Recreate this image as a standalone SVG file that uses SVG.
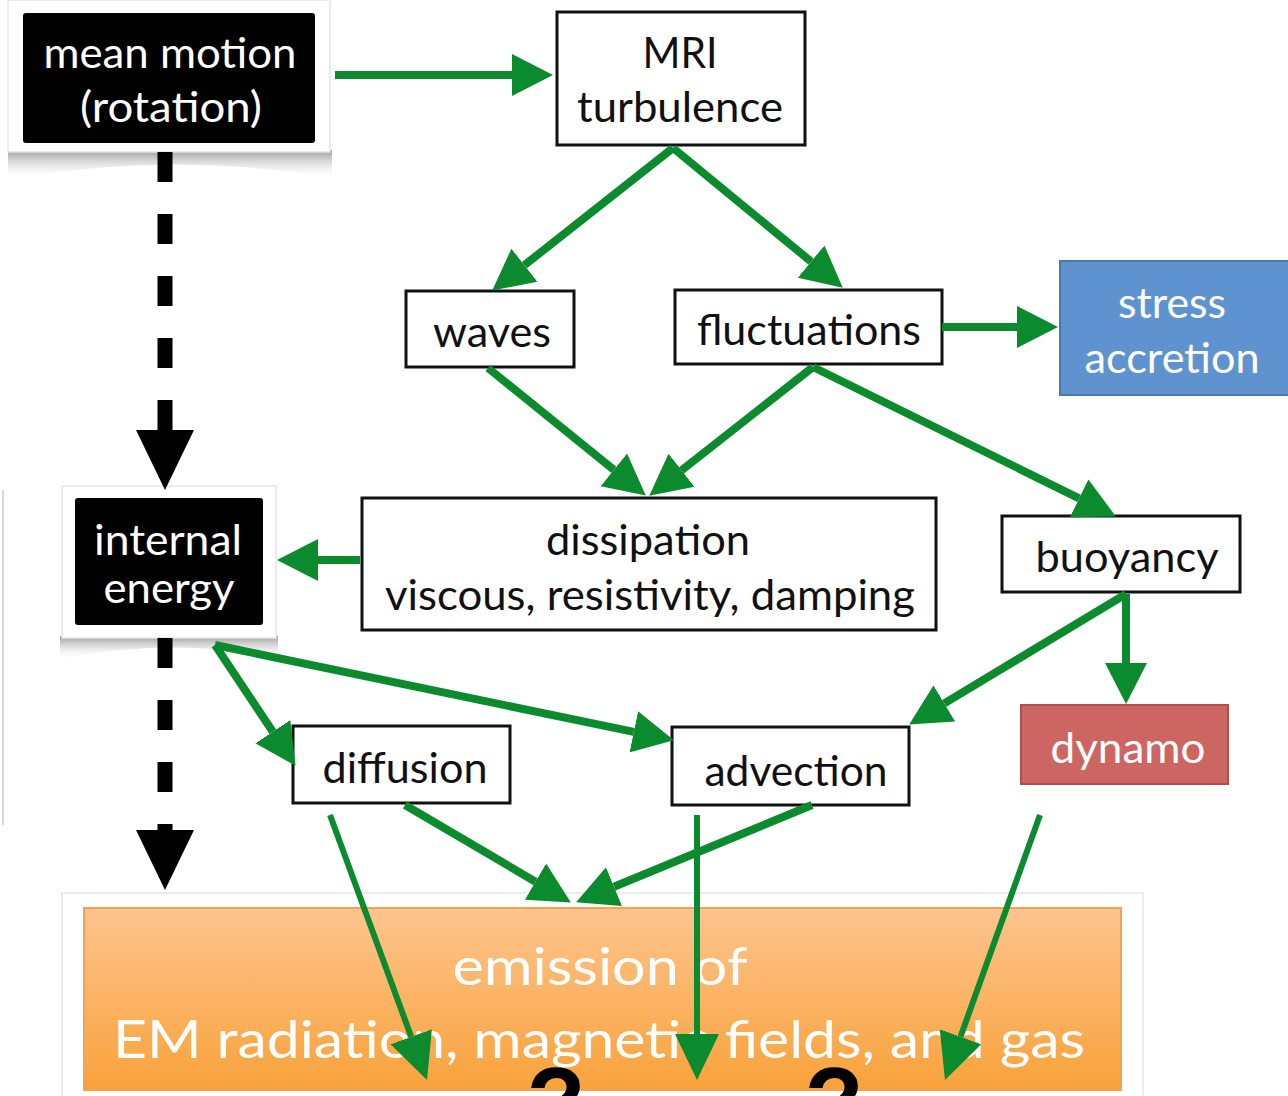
<svg xmlns="http://www.w3.org/2000/svg" width="1288" height="1096" viewBox="0 0 1288 1096">
<defs>
<style>
.t{font-family:Lato,"Open Sans","Liberation Sans",sans-serif;font-size:43px;text-anchor:middle}
.w{fill:#ffffff}
.k{fill:#111111}
.box{fill:#ffffff;stroke:#111111;stroke-width:3}
.g{fill:none;stroke:#0b8a2e;stroke-width:8}
.g2{fill:none;stroke:#0b8a2e;stroke-width:6}
.frame{fill:#ffffff;stroke:#e6e6e6;stroke-width:1.5}
</style>
<marker id="ah" markerUnits="userSpaceOnUse" markerWidth="42" markerHeight="44" refX="0" refY="22" orient="auto" viewBox="0 0 42 44">
<path d="M0,1 L41,22 L0,43 Z" fill="#0b8a2e"/>
</marker>
<marker id="ah2" markerUnits="userSpaceOnUse" markerWidth="46" markerHeight="46" refX="0" refY="23" orient="auto" viewBox="0 0 46 46">
<path d="M0,1 L46,23 L0,45 Z" fill="#0b8a2e"/>
</marker>
<linearGradient id="og" x1="0" y1="0" x2="0" y2="1">
<stop offset="0" stop-color="#fdc48e"/>
<stop offset="1" stop-color="#f9a23a"/>
</linearGradient>
<linearGradient id="sh" x1="0" y1="0" x2="0" y2="1">
<stop offset="0" stop-color="#9a9a9a"/>
<stop offset="1" stop-color="#ffffff" stop-opacity="0"/>
</linearGradient>
</defs>
<rect width="1288" height="1096" fill="#ffffff"/>
<line x1="3" y1="490" x2="3" y2="825" stroke="#d8d8d8" stroke-width="2"/>

<g id="mean-motion">
<path d="M8,150 L332,150 L332,178 Q170,150 8,180 Z" fill="url(#sh)"/>
<rect class="frame" x="8" y="0" width="322" height="152"/>
<rect x="23" y="13" width="292" height="130" rx="3" fill="#000000"/>
<text class="t w" x="170" y="68" textLength="253" lengthAdjust="spacingAndGlyphs">mean motion</text>
<text class="t w" x="171" y="122" textLength="182" lengthAdjust="spacingAndGlyphs">(rotation)</text>
</g>

<g id="internal-energy">
<path d="M60,636 L278,636 L278,658 Q168,636 60,660 Z" fill="url(#sh)"/>
<rect class="frame" x="62" y="486" width="214" height="152"/>
<rect x="75" y="498" width="188" height="127" rx="3" fill="#000000"/>
<text class="t w" x="168" y="555" textLength="148" lengthAdjust="spacingAndGlyphs">internal</text>
<text class="t w" x="169" y="603" textLength="131" lengthAdjust="spacingAndGlyphs">energy</text>
</g>

<g id="mri">
<rect class="box" x="557" y="12" width="248" height="133"/>
<text class="t k" x="680" y="68" textLength="75" lengthAdjust="spacingAndGlyphs">MRI</text>
<text class="t k" x="680" y="122" textLength="206" lengthAdjust="spacingAndGlyphs">turbulence</text>
</g>

<g id="waves">
<rect class="box" x="406" y="291" width="168" height="76"/>
<text class="t k" x="492" y="347" textLength="118" lengthAdjust="spacingAndGlyphs">waves</text>
</g>

<g id="fluctuations">
<rect class="box" x="675" y="290" width="267" height="74"/>
<text class="t k" x="809" y="345" textLength="224" lengthAdjust="spacingAndGlyphs">fluctuations</text>
</g>

<g id="stress-accretion">
<rect x="1060" y="261" width="230" height="134" fill="#5f93cf" stroke="#4a78ad" stroke-width="2"/>
<text class="t w" x="1172" y="318" textLength="108" lengthAdjust="spacingAndGlyphs">stress</text>
<text class="t w" x="1172" y="373" textLength="175" lengthAdjust="spacingAndGlyphs">accretion</text>
</g>

<g id="dissipation">
<rect class="box" x="362" y="498" width="574" height="132"/>
<text class="t k" x="648" y="555" textLength="204" lengthAdjust="spacingAndGlyphs">dissipation</text>
<text class="t k" x="650" y="610" textLength="530" lengthAdjust="spacingAndGlyphs">viscous, resistivity, damping</text>
</g>

<g id="buoyancy">
<rect class="box" x="1002" y="516" width="238" height="76"/>
<text class="t k" x="1127" y="572" textLength="183" lengthAdjust="spacingAndGlyphs">buoyancy</text>
</g>

<g id="dynamo">
<rect x="1021" y="705" width="207" height="79" fill="#cd6662" stroke="#b04e4a" stroke-width="2"/>
<text class="t w" x="1128" y="763" textLength="155" lengthAdjust="spacingAndGlyphs">dynamo</text>
</g>

<g id="diffusion">
<rect class="box" x="293" y="726" width="217" height="77"/>
<text class="t k" x="405" y="783" textLength="165" lengthAdjust="spacingAndGlyphs">diffusion</text>
</g>

<g id="advection">
<rect class="box" x="672" y="727" width="237" height="78"/>
<text class="t k" x="796" y="786" textLength="183" lengthAdjust="spacingAndGlyphs">advection</text>
</g>

<g id="emission">
<rect class="frame" x="62" y="893" width="1081" height="210"/>
<rect x="84" y="908" width="1037" height="182" fill="url(#og)" stroke="#f4a055" stroke-width="2"/>
<text class="t w" x="600" y="985" style="font-size:52px" textLength="295" lengthAdjust="spacingAndGlyphs">emission of</text>
<text class="t w" x="599" y="1058" style="font-size:52px" textLength="972" lengthAdjust="spacingAndGlyphs">EM radiation, magnetic fields, and gas</text>
</g>

<g id="connectors">
<line x1="165" y1="152" x2="165" y2="432" stroke="#000000" stroke-width="15" stroke-dasharray="30 32"/>
<path d="M136,430 L194,430 L165,490 Z" fill="#000000"/>
<line x1="165" y1="638" x2="165" y2="832" stroke="#000000" stroke-width="15" stroke-dasharray="30 32"/>
<path d="M136,830 L194,830 L165,890 Z" fill="#000000"/>

<path class="g" d="M335,75 L512,75" marker-end="url(#ah)"/>
<path class="g" d="M673,148 L524.4,265.2" marker-end="url(#ah)"/>
<path class="g" d="M673,148 L811.1,261.6" marker-end="url(#ah)"/>
<path class="g" d="M942,327 L1017,327" marker-end="url(#ah)"/>
<path class="g" d="M488,368 L613.9,469.8" marker-end="url(#ah)"/>
<path class="g" d="M813,367 L681.5,470.3" marker-end="url(#ah)"/>
<path class="g" d="M813,367 L1079.1,498.3" marker-end="url(#ah)"/>
<path class="g" d="M360,560 L318,560" marker-end="url(#ah)"/>
<path class="g" d="M1126,594 L1126,663" marker-end="url(#ah)"/>
<path class="g" d="M1126,594 L944.3,703.4" marker-end="url(#ah)"/>
<path class="g" d="M215,645 L272.8,731.7" marker-end="url(#ah)"/>
<path class="g" d="M215,645 L633.8,731.9" marker-end="url(#ah)"/>
<path class="g" d="M405,805 L535.5,881.7" marker-end="url(#ah)"/>
<path class="g" d="M812,805 L614,886.7" marker-end="url(#ah)"/>

<path class="g2" d="M330,815 L411.2,1036.8" marker-end="url(#ah2)"/>
<path class="g2" d="M697,815 L697,1034" marker-end="url(#ah2)"/>
<path class="g2" d="M1040,815 L960.5,1036.7" marker-end="url(#ah2)"/>
</g>

<text x="556" y="1135" style="font-family:'Liberation Sans',sans-serif;font-weight:bold;font-size:96px;text-anchor:middle" fill="#000000">?</text>
<text x="834" y="1135" style="font-family:'Liberation Sans',sans-serif;font-weight:bold;font-size:96px;text-anchor:middle" fill="#000000">?</text>
</svg>
